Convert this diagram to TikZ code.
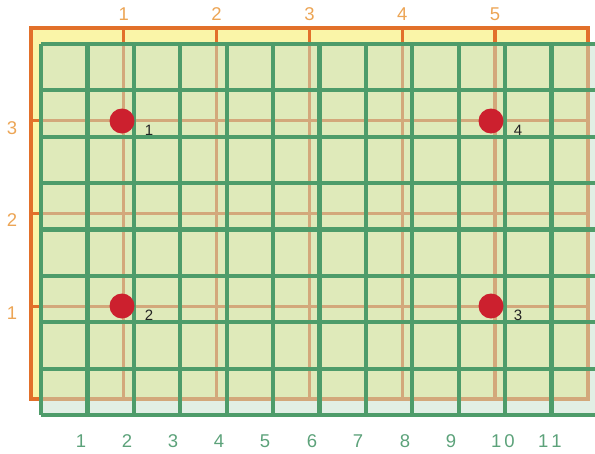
\documentclass[tikz,border=0pt]{standalone}
\usepackage{fontspec}
\setmainfont{Liberation Sans}
\usetikzlibrary{positioning}
\definecolor{gridorange}{RGB}{226,112,42}
\definecolor{tickorange}{RGB}{236,165,85}
\definecolor{padyellow}{RGB}{250,245,168}
\definecolor{gridgreen}{RGB}{78,156,106}
\definecolor{veilgreen}{RGB}{198,224,204}
\definecolor{tickgreen}{RGB}{92,162,122}
\definecolor{pinred}{RGB}{204,32,46}
\definecolor{inkgray}{RGB}{35,35,35}

\begin{document}
\begin{tikzpicture}[x=1pt, y=-1pt,
    oline/.style={gridorange, line width=3.2pt},
    gline/.style={gridgreen, line width=4.2pt},
    otick/.style={text=tickorange, font=\fontsize{18.5}{20}\selectfont},
    gtick/.style={text=tickgreen, font=\fontsize{18.5}{20}\selectfont},
    pin/.style={circle, fill=pinred, minimum size=25pt, inner sep=0pt},
    pinlabel/.style={text=inkgray, font=\fontsize{15}{17}\selectfont, inner sep=0pt}]
    \useasboundingbox (0,0) rectangle (595,453);

    % orange grid
    \fill[padyellow] (31,28) rectangle (588,399);
    \foreach \i in {1,...,5} \draw[oline] (31+92.8*\i,28) -- (31+92.8*\i,399);
    \foreach \j in {1,2,3} \draw[oline] (31,28+92.75*\j) -- (588,28+92.75*\j);
    \draw[oline] (31,28) rectangle (588,399);
    \foreach \i in {1,...,5} \node[otick] (o\i) at (31+92.8*\i,14) {\i};
    \foreach \j/\t in {1/3,2/2,3/1} \node[otick] (l\t) at (12,35+92.75*\j) {\t};

    % green grid
    \fill[veilgreen, opacity=0.5] (41,44) rectangle (595,415);
    \foreach \i in {0,...,11} \draw[gline] (41+46.4*\i,44) -- (41+46.4*\i,415);
    \foreach \j in {0,...,8} \draw[gline] (41,44+46.375*\j) -- (595,44+46.375*\j);
    \foreach \x/\t in {81/1,127/2,173/3,219/4,265/5,312/6,358/7,405/8,451/9}
        \node[gtick] (g\t) at (\x,441) {\t};
    \node[gtick] (g10) at (503,441) {1\kern3pt0};
    \node[gtick] (g11) at (550,441) {1\kern3pt1};

    % points
    \foreach \x/\y/\n in {122/121/1,122/306/2,491/306/3,491/121/4} {
        \node[pin] (p\n) at (\x,\y) {};
        \node[pinlabel, right=10pt of p\n.east, yshift=-9pt] (n\n) {\n};
    }
\end{tikzpicture}
\end{document}
